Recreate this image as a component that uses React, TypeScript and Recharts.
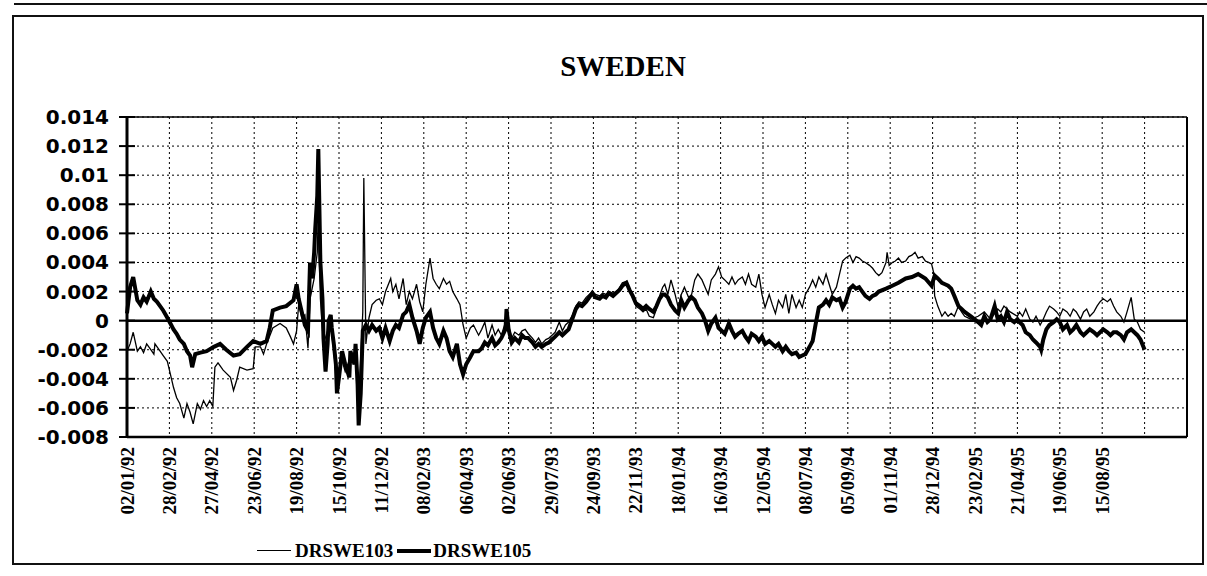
import React from 'react'
import { LineChart, Line, XAxis, YAxis, CartesianGrid, ReferenceLine } from 'recharts'

// business-day index (0 = 02/01/92) and value
const drswe103: [number, number][] = [
  [0, -0.0021], [3, -0.0016], [6, -0.0008], [10, -0.0021], [13, -0.0018], [16, -0.0022], [19, -0.0016],
  [23, -0.002], [26, -0.0023], [27, -0.0016], [32, -0.0021], [35, -0.0024], [39, -0.0028], [42, -0.0037],
  [45, -0.0046], [48, -0.0053], [51, -0.0057], [55, -0.0067], [58, -0.0057], [61, -0.0063], [64, -0.0071],
  [68, -0.0057], [71, -0.0061], [74, -0.0055], [77, -0.0059], [80, -0.0055], [83, -0.0059], [85, -0.0032],
  [88, -0.0029], [93, -0.0034], [100, -0.0039], [103, -0.0048], [106, -0.0041], [109, -0.0032], [116, -0.0034],
  [122, -0.0033], [124, -0.0018], [129, -0.0018], [132, -0.0023], [135, -0.0016], [141, -0.0005], [148, -0.0002],
  [154, -0.0005], [158, -0.0011], [161, -0.0016], [164, -0.0007],
  [166, 0.0011], [169, 0.0002], [172, 0.0004], [175, -0.0019], [177, 0.0015], [181, 0.0029], [184, 0.0047],
  [185, 0.0075], [187, 0.0015], [190, -0.0016], [194, -0.0007], [197, -0.0003], [200, -0.0021], [203, -0.0044],
  [207, -0.0025], [211, -0.0035], [216, -0.0025], [221, -0.0021], [224, -0.0057], [228, 0.0006], [229, 0.0098],
  [231, -0.0016], [234, 0.0002], [237, 0.0011], [241, 0.0014], [244, 0.0015], [247, 0.0011], [250, 0.002],
  [255, 0.0029], [257, 0.002], [260, 0.0025], [263, 0.0015], [267, 0.0029], [270, 0.0011], [273, 0.002],
  [276, 0.0015], [280, 0.0025], [283, 0.0013], [286, 0.0006], [289, 0.0025], [293, 0.0043], [296, 0.0029],
  [299, 0.0025], [302, 0.0022], [306, 0.0029], [309, 0.0025], [312, 0.0027], [315, 0.002], [319, 0.0015],
  [322, 0.0011], [325, -0.0003], [328, -0.0012], [332, -0.0005], [335, -0.0003],
  [340, -0.001], [343, -0.0006], [346, -0.0001], [349, -0.0012], [353, -0.0003], [356, -0.001], [359, -0.0006],
  [362, -0.001], [366, -0.0001], [367, 0.0008], [369, -0.0003], [372, -0.0012], [375, -0.0008], [379, -0.001],
  [382, -0.0007], [385, -0.0006], [388, -0.0009], [392, -0.0012], [395, -0.0015], [398, -0.0012], [401, -0.0016],
  [405, -0.0013], [408, -0.0012], [411, -0.001], [414, -0.0008], [418, -0.0001], [421, -0.0007], [424, -0.0003],
  [427, -0.0001], [431, 0.0004], [434, 0.001], [437, 0.0013], [440, 0.0012], [444, 0.0016], [447, 0.0018],
  [450, 0.002], [453, 0.0018], [457, 0.0017], [460, 0.0019], [463, 0.0018], [466, 0.002], [470, 0.0019],
  [473, 0.002], [476, 0.0022], [479, 0.0026], [483, 0.0027], [486, 0.0022], [489, 0.0018], [492, 0.001],
  [496, 0.0008], [499, 0.0006], [502, 0.0008], [505, 0.0003], [509, 0.0002], [512, 0.0008], [515, 0.0017],
  [518, 0.0023], [520, 0.0025], [523, 0.0018], [526, 0.0028], [530, 0.0018], [533, 0.0009], [536, 0.0018],
  [539, 0.0023], [543, 0.0016], [546, 0.0018], [549, 0.0028], [552, 0.0032], [556, 0.0028], [559, 0.0023],
  [562, 0.0018], [565, 0.0028], [569, 0.0032], [572, 0.0037], [575, 0.003], [578, 0.0028], [582, 0.0025],
  [585, 0.003], [588, 0.0025], [591, 0.0028], [595, 0.003], [598, 0.0025], [601, 0.0032], [604, 0.0025],
  [608, 0.0023], [611, 0.0032], [614, 0.0018], [617, 0.0009], [621, 0.0018], [624, 0.0011], [627, 0.0005],
  [630, 0.0014], [634, 0.0009], [637, 0.0018], [640, 0.0005], [643, 0.0018], [647, 0.0009], [650, 0.0014],
  [653, 0.0009], [656, 0.0018], [660, 0.0023], [663, 0.0028], [666, 0.0023], [669, 0.003], [673, 0.0025],
  [676, 0.0032], [679, 0.0025], [682, 0.0018], [686, 0.0023], [689, 0.0032], [692, 0.0041],
  [695, 0.0043], [699, 0.0045], [702, 0.004], [705, 0.0044], [708, 0.0043], [711, 0.0041], [714, 0.004],
  [718, 0.0038], [721, 0.0036], [724, 0.0033], [727, 0.0031], [730, 0.0033], [734, 0.004], [735, 0.0047],
  [737, 0.0038], [740, 0.004], [743, 0.0041], [746, 0.0043], [749, 0.004], [753, 0.0041], [756, 0.0044],
  [759, 0.0045], [762, 0.0047], [765, 0.0043], [769, 0.0044], [772, 0.0041], [775, 0.004], [778, 0.0039],
  [780, 0.0033], [781, 0.0017], [784, 0.001], [788, 0.0003], [791, 0.0006], [794, 0.0003], [797, 0.0005],
  [800, 0.0003], [804, 0.001], [807, 0.0006], [810, 0.0003], [816, 0.0001], [823, 0.0003], [829, 0.0006],
  [835, 0.0001], [842, 0.0008], [845, 0.0006], [848, 0.001], [854, 0.0006], [861, 0.0003],
  [863, 0.0006], [866, 0.0003], [869, 0.0008], [873, 0.0001], [876, -0.0001], [879, 0.0003], [883, -0.0003],
  [886, 0.0001], [889, 0.0006], [892, 0.001], [896, 0.0008], [899, 0.0006], [902, 0.0003], [905, 0.0008],
  [909, 0.0006], [912, 0.0003], [915, 0.0008], [918, 0.0006], [922, 0.0001], [925, 0.0006], [928, 0.0008],
  [931, 0.0003], [935, 0.0006], [938, 0.001], [941, 0.0013], [944, 0.0015], [948, 0.0013], [951, 0.0015],
  [954, 0.001], [957, 0.0006], [961, 0.0003], [964, -0.0001], [967, 0.0006], [971, 0.0016], [974, 0.0001],
  [977, -0.0001], [980, -0.0006], [984, -0.0008],
]

const drswe105: [number, number][] = [
  [0, 0.0005], [3, 0.0023], [6, 0.003], [10, 0.0014], [13, 0.0011], [16, 0.0016], [19, 0.0013], [23, 0.002],
  [26, 0.0015], [29, 0.0013], [32, 0.001], [35, 0.0007], [39, 0.0002], [42, -0.0002], [45, -0.0006], [48, -0.0009],
  [51, -0.0013], [55, -0.0016], [58, -0.0021], [61, -0.0024], [63, -0.0032], [66, -0.0023], [71, -0.0022],
  [77, -0.0021], [84, -0.0018], [90, -0.0016], [96, -0.002], [103, -0.0024], [109, -0.0023], [116, -0.0018],
  [122, -0.0014], [129, -0.0016], [135, -0.0014], [138, -0.0005], [141, 0.0007], [148, 0.0009], [154, 0.001],
  [161, 0.0014], [164, 0.0025],
  [166, 0.0015], [169, 0.0006], [172, -0.0003], [175, -0.0007], [177, 0.004], [179, 0.0029], [181, 0.0047],
  [182, 0.0063], [184, 0.0086], [185, 0.0118], [187, 0.004], [189, 0.0015], [190, -0.0012], [192, -0.0035],
  [194, -0.0016], [195, 0], [197, 0.0004], [198, -0.0005], [200, -0.0016], [202, -0.003], [203, -0.005],
  [205, -0.0039], [208, -0.0021], [211, -0.003], [215, -0.0039], [216, -0.0021], [220, -0.003], [221, -0.0016],
  [223, -0.0044], [224, -0.0072], [226, -0.005], [228, -0.0007], [231, -0.0003], [234, -0.0007], [237, -0.0003],
  [241, -0.0007], [244, -0.0005], [247, -0.0012], [250, -0.0005], [254, -0.0014], [257, -0.0007], [260, -0.0003],
  [263, -0.0005], [267, 0.0004], [270, 0.0006], [273, 0.0011], [276, 0.0002], [280, -0.0007], [283, -0.0016],
  [286, -0.0005], [289, 0.0002], [293, 0.0006], [296, -0.0005], [299, -0.0012], [302, -0.0016], [306, -0.0007],
  [309, -0.0012], [312, -0.0021], [315, -0.0025], [319, -0.0016], [322, -0.003], [325, -0.0037], [328, -0.003],
  [332, -0.0025], [335, -0.0021],
  [340, -0.0021], [343, -0.0019], [346, -0.0015], [349, -0.0017], [353, -0.0012], [356, -0.0017], [359, -0.0015],
  [362, -0.0012], [366, -0.0006], [367, 0.0008], [369, -0.0006], [372, -0.0015], [375, -0.0012], [379, -0.0015],
  [382, -0.001], [385, -0.0012], [388, -0.0012], [392, -0.0015], [395, -0.0018], [398, -0.0016], [401, -0.0018],
  [405, -0.0016], [408, -0.0015], [411, -0.0013], [414, -0.0011], [418, -0.0008], [421, -0.001], [424, -0.0008],
  [427, -0.0006], [431, 0.0002], [434, 0.0008], [437, 0.0011], [440, 0.001], [444, 0.0013], [447, 0.0016],
  [450, 0.0019], [453, 0.0016], [457, 0.0015], [460, 0.0017], [463, 0.0016], [466, 0.0019], [470, 0.0017],
  [473, 0.0019], [476, 0.0021], [479, 0.0024], [483, 0.0026], [486, 0.0021], [489, 0.0017], [492, 0.0012],
  [496, 0.001], [499, 0.0008], [502, 0.001], [505, 0.0008], [509, 0.0006], [512, 0.001], [515, 0.0015],
  [518, 0.0018], [520, 0.0018], [523, 0.0016], [526, 0.0011], [530, 0.0007], [533, 0.0005], [536, 0.0014],
  [539, 0.0009], [543, 0.0014], [546, 0.0016], [549, 0.0014], [552, 0.0009], [556, 0.0005], [559, 0],
  [562, -0.0007], [565, -0.0002], [569, 0.0002], [572, -0.0005], [575, -0.0007], [578, -0.0009], [582, -0.0002],
  [585, -0.0007], [588, -0.0011], [591, -0.0009], [595, -0.0007], [598, -0.0011], [601, -0.0014], [604, -0.0009],
  [608, -0.0011], [611, -0.0014], [614, -0.0011], [617, -0.0016], [621, -0.0014], [624, -0.0016], [627, -0.0018],
  [630, -0.0016], [634, -0.0021], [637, -0.0018], [640, -0.0021], [643, -0.0023], [647, -0.0022], [650, -0.0025],
  [653, -0.0024], [656, -0.0023], [660, -0.0018], [663, -0.0014], [666, -0.0002], [669, 0.0009], [673, 0.0011],
  [676, 0.0014], [679, 0.0011], [682, 0.0016], [686, 0.0014], [689, 0.0015], [692, 0.0009],
  [695, 0.0013], [699, 0.0022], [702, 0.0024], [705, 0.0022], [708, 0.0023], [711, 0.002], [714, 0.0017],
  [718, 0.0015], [721, 0.0017], [724, 0.0018], [727, 0.002], [734, 0.0022], [740, 0.0024], [746, 0.0026],
  [753, 0.0029], [759, 0.003], [765, 0.0032], [772, 0.0029], [778, 0.0024], [781, 0.0031], [784, 0.0029],
  [788, 0.0026], [791, 0.0025], [794, 0.0024], [797, 0.0022], [800, 0.0017], [804, 0.001], [807, 0.0008],
  [810, 0.0006], [816, 0.0003], [823, -0.0001], [826, -0.0003], [829, 0.0003], [832, -0.0001], [835, 0.0001],
  [839, 0.001], [842, 0.0001], [845, 0.0003], [848, -0.0001], [851, 0.0006], [854, 0.0001], [858, -0.0001],
  [861, 0.0001],
  [863, -0.0001], [866, -0.0003], [869, -0.0008], [873, -0.001], [876, -0.0013], [879, -0.0015], [883, -0.0018],
  [884, -0.002], [886, -0.0013], [889, -0.0006], [892, -0.0003], [896, -0.0001], [899, 0.0001], [902, -0.0001],
  [905, -0.0006], [909, -0.0003], [912, -0.0008], [915, -0.0006], [918, -0.0003], [922, -0.0008], [925, -0.001],
  [928, -0.0008], [931, -0.0006], [935, -0.0008], [938, -0.001], [941, -0.0008], [944, -0.0006], [948, -0.0008],
  [951, -0.001], [954, -0.0008], [957, -0.0008], [961, -0.001], [964, -0.0013], [967, -0.0008], [971, -0.0006],
  [974, -0.0008], [977, -0.001], [980, -0.0013], [984, -0.002],
]

const dateLabels = [
  '02/01/92', '28/02/92', '27/04/92', '23/06/92', '19/08/92', '15/10/92', '11/12/92', '08/02/93',
  '06/04/93', '02/06/93', '29/07/93', '24/09/93', '22/11/93', '18/01/94', '16/03/94', '12/05/94',
  '08/07/94', '05/09/94', '01/11/94', '28/12/94', '23/02/95', '21/04/95', '19/06/95', '15/08/95',
]
const labelStep = 41 // business days between date labels
const lastDay = 1025
const yTicks = [-0.008, -0.006, -0.004, -0.002, 0, 0.002, 0.004, 0.006, 0.008, 0.01, 0.012, 0.014]

const xTicks: number[] = []
for (let d = 0; d <= lastDay; d += labelStep) xTicks.push(d)

type Row = { d: number; a?: number; b?: number }
const byDay = new Map<number, Row>()
for (const [d, v] of drswe103) byDay.set(d, { ...(byDay.get(d) ?? { d }), a: v })
for (const [d, v] of drswe105) byDay.set(d, { ...(byDay.get(d) ?? { d }), b: v })
const data = [...byDay.values()].sort((p, q) => p.d - q.d)

const fmtValue = (v: number) => String(Number(v.toFixed(3)))

function ValueTick({ x, y, payload }: any) {
  return (
    <g>
      <line x1={x + 11} x2={x + 27} y1={y} y2={y} stroke="#000" strokeWidth={2} />
      <text
        x={x + 1}
        y={y}
        textAnchor="end"
        dominantBaseline="central"
        fontFamily="'DejaVu Sans', sans-serif"
        fontWeight="bold"
        fontSize={20}
        fill="#000"
      >
        {fmtValue(payload.value)}
      </text>
    </g>
  )
}

function DateTick({ x, y, payload }: any) {
  const label = dateLabels[Math.round(payload.value / labelStep)] ?? ''
  return (
    <text
      x={x}
      y={y}
      transform={`rotate(-90 ${x} ${y})`}
      textAnchor="end"
      dominantBaseline="central"
      fontFamily="'Liberation Serif', serif"
      fontWeight="bold"
      fontSize={19}
      fill="#000"
    >
      {label}
    </text>
  )
}

export default function App() {
  return (
    <div style={{ position: 'absolute', left: 0, top: 0, width: 1207, height: 576, background: '#fff', overflow: 'hidden' }}>
      <div style={{ position: 'absolute', left: 14, top: 3, width: 1193, borderTop: '2px solid #111' }} />
      <div
        style={{
          position: 'absolute',
          left: 12,
          top: 15,
          width: 1192,
          height: 550,
          border: '2px solid #111',
          boxSizing: 'border-box',
        }}
      />
      <div
        style={{
          position: 'absolute',
          left: 623,
          top: 52,
          transform: 'translateX(-50%)',
          fontFamily: "'Liberation Serif', serif",
          fontWeight: 'bold',
          fontSize: 29,
          lineHeight: '29px',
          color: '#000',
        }}
      >
        SWEDEN
      </div>
      <div style={{ position: 'absolute', left: 0, top: 0 }}>
        <LineChart width={1207} height={576} data={data} margin={{ top: 117, right: 20, bottom: 39, left: 0 }}>
          <CartesianGrid stroke="#000" strokeWidth={1} strokeDasharray="2 3" />
          <XAxis
            type="number"
            dataKey="d"
            domain={[0, lastDay]}
            ticks={xTicks}
            interval={0}
            height={100}
            tickSize={6}
            tickMargin={4}
            tickLine={false}
            axisLine={{ stroke: '#000', strokeWidth: 2.5 }}
            tick={<DateTick />}
          />
          <YAxis
            domain={[-0.008, 0.014]}
            ticks={yTicks}
            interval={0}
            width={127}
            tickSize={8}
            tickMargin={11}
            tickLine={false}
            axisLine={{ stroke: '#000', strokeWidth: 3 }}
            tick={<ValueTick />}
          />
          <ReferenceLine y={0.014} stroke="#000" strokeWidth={1.5} />
          <ReferenceLine x={lastDay} stroke="#000" strokeWidth={2} />
          <ReferenceLine y={0} stroke="#000" strokeWidth={2.5} />
          <Line
            type="linear"
            dataKey="a"
            name="DRSWE103"
            stroke="#000"
            strokeWidth={1.3}
            dot={false}
            connectNulls
            isAnimationActive={false}
          />
          <Line
            type="linear"
            dataKey="b"
            name="DRSWE105"
            stroke="#000"
            strokeWidth={4}
            dot={false}
            connectNulls
            isAnimationActive={false}
          />
        </LineChart>
      </div>
      <div
        style={{
          position: 'absolute',
          left: 257,
          top: 541,
          display: 'flex',
          alignItems: 'center',
          fontFamily: "'Liberation Serif', serif",
          fontWeight: 'bold',
          fontSize: 19,
          lineHeight: '19px',
          color: '#000',
        }}
      >
        <span style={{ display: 'inline-block', width: 34, borderTop: '1.5px solid #000', marginRight: 4 }} />
        <span>DRSWE103</span>
        <span style={{ display: 'inline-block', width: 34, borderTop: '4px solid #000', margin: '0 2px 0 4px' }} />
        <span>DRSWE105</span>
      </div>
    </div>
  )
}
